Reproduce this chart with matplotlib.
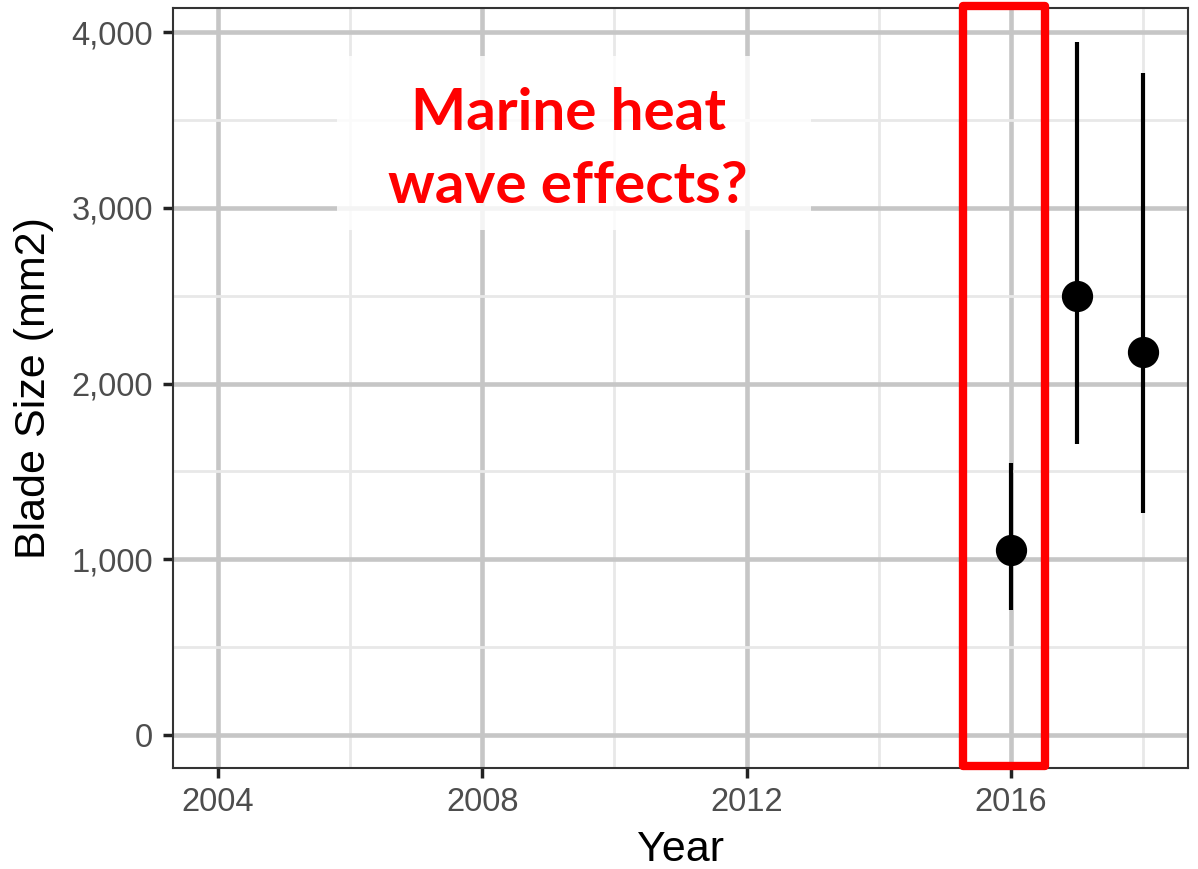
import numpy as np
import matplotlib.pyplot as plt
from matplotlib.patches import Rectangle
from matplotlib.ticker import FuncFormatter, MultipleLocator

# blade size by year (mean and interval)
years = [2016, 2017, 2018]
blade_mean = [1055, 2498, 2180]
blade_low = [711, 1656, 1263]
blade_high = [1548, 3945, 3767]

x_ticks = [2004, 2008, 2012, 2016]
y_ticks = [0, 1000, 2000, 3000, 4000]
note = "Marine heat\nwave effects?"

plt.rcParams['font.family'] = ['Liberation Sans', 'DejaVu Sans']

fig = plt.figure(figsize=(11.98, 8.69), dpi=100)
ax = fig.add_axes([0.1444, 0.1162, 0.8473, 0.8746])

# error bars + points
yerr = [np.array(blade_mean) - np.array(blade_low),
        np.array(blade_high) - np.array(blade_mean)]
ax.errorbar(years, blade_mean, yerr=yerr, fmt='o', color='black',
            markersize=21.5, elinewidth=3, capsize=0, zorder=3)

ax.set_xlim(2003.32, 2018.68)
ax.set_ylim(-188, 4137)
ax.set_xticks(x_ticks)
ax.set_yticks(y_ticks)
ax.xaxis.set_minor_locator(MultipleLocator(2))
ax.yaxis.set_minor_locator(MultipleLocator(500))
ax.yaxis.set_major_formatter(FuncFormatter(lambda v, p: f"{int(v):,}"))

# ggplot bw look
ax.set_axisbelow(True)
ax.grid(which='major', color='#c6c6c6', linewidth=3.3)
ax.grid(which='minor', color='#e8e8e8', linewidth=2)
for s in ax.spines.values():
    s.set_color('#333333')
    s.set_linewidth(1.5)
ax.tick_params(which='major', length=7.5, width=2.5, color='#222222',
               labelsize=23.5, labelcolor='#4d4d4d', pad=6)
ax.tick_params(axis='y', pad=7)
ax.tick_params(which='minor', length=0)

ax.set_xlabel("Year", fontsize=31, labelpad=8.5)
ax.set_ylabel("Blade Size (mm2)", fontsize=31)
ax.yaxis.set_label_coords(-0.117, 0.5)

# faded white box behind the annotation
ax.add_patch(Rectangle((2005.8, 2873), 7.17, 990, facecolor='white',
                       edgecolor='none', alpha=0.82, zorder=1))
ax.text(2009.3, 3330, note, color='#ff0000', fontsize=42,
        fontweight='bold', family=['Lato', 'DejaVu Sans'],
        ha='center', va='center', linespacing=1.46, zorder=4)

# red highlight around 2016
ax.add_patch(Rectangle((2015.27, -176), 1.24, 4327, facecolor='none',
                       edgecolor='#ff0000', linewidth=6, joinstyle='round',
                       clip_on=False, zorder=5))

fig.savefig("out.png", dpi=100)
